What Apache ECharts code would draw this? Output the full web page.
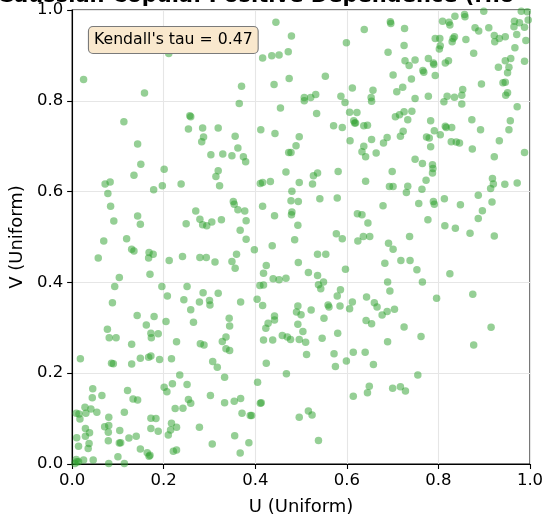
<!DOCTYPE html>
<html>
<head>
<meta charset="utf-8">
<script src="https://cdn.jsdelivr.net/npm/echarts@6/dist/echarts.min.js"></script>
<style>
  html, body { margin: 0; padding: 0; background: #fff; }
  #chart { width: 547px; height: 521px; }
</style>
</head>
<body>
<div id="chart"></div>
<script>
// texts
const titleText = 'Gaussian Copula: Positive Dependence (rho = 0.7)';
const noteText = "Kendall's tau = 0.47";
const xName = 'U (Uniform)';
const yName = 'V (Uniform)';
const tickStep = 0.2;

const samples = [
  [0.445,0.973],[0.479,0.943],[0.211,0.904],[0.416,0.894],[0.436,0.899],[0.452,0.901],[0.472,0.908],
  [0.025,0.847],[0.158,0.817],[0.370,0.832],[0.441,0.836],[0.474,0.849],[0.365,0.794],[0.455,0.784],
  [0.257,0.767],[0.259,0.765],[0.113,0.754],
  [0.899,0.997],[0.857,0.990],[0.858,0.985],[0.836,0.986],[0.809,0.975],[0.823,0.973],[0.825,0.967],
  [0.695,0.974],[0.696,0.970],[0.726,0.959],[0.638,0.957],[0.599,0.928],[0.690,0.907],[0.725,0.922],
  [0.727,0.888],[0.736,0.878],[0.749,0.890],[0.778,0.893],[0.789,0.883],[0.790,0.880],[0.766,0.867],
  [0.768,0.863],[0.793,0.856],[0.815,0.883],[0.822,0.888],[0.701,0.857],[0.741,0.848],[0.722,0.830],
  [0.709,0.820],[0.793,0.937],[0.803,0.937],[0.804,0.921],[0.802,0.914],[0.830,0.930],[0.832,0.937],
  [0.835,0.941],[0.860,0.935],[0.877,0.905],[0.880,0.961],[0.888,0.954],[0.910,0.961],[0.922,0.944],
  [0.923,0.930],[0.933,0.937],[0.946,0.941],[0.971,0.946],[0.991,0.933],[0.967,0.917],[0.965,0.963],
  [0.966,0.975],[0.977,0.972],[0.988,0.962],[0.996,0.978],[0.981,0.997],[0.994,0.996],[0.946,0.888],
  [0.958,0.893],[0.931,0.874],[0.954,0.874],[0.951,0.862],[0.988,0.887],[0.894,0.837],[0.941,0.840],
  [0.946,0.841],[0.951,0.818],[0.947,0.812],[0.972,0.787],[0.507,0.807],[0.507,0.800],[0.521,0.807],
  [0.532,0.814],[0.553,0.854],[0.587,0.810],[0.596,0.796],[0.612,0.828],[0.657,0.823],[0.653,0.807],
  [0.654,0.799],[0.749,0.805],[0.778,0.810],[0.819,0.810],[0.835,0.808],[0.851,0.812],[0.853,0.825],
  [0.851,0.793],[0.812,0.798],[0.534,0.772],[0.606,0.775],[0.622,0.774],[0.615,0.756],[0.619,0.751],
  [0.706,0.765],[0.715,0.769],[0.725,0.776],[0.742,0.777],[0.733,0.758],[0.783,0.756],[0.873,0.758],
  [0.957,0.756],
  [0.254,0.738],[0.285,0.740],[0.319,0.740],[0.287,0.720],[0.283,0.710],[0.356,0.722],[0.412,0.736],
  [0.443,0.728],[0.496,0.721],[0.143,0.705],[0.362,0.696],[0.489,0.701],[0.303,0.681],[0.329,0.683],
  [0.349,0.679],[0.374,0.677],[0.379,0.666],[0.473,0.686],[0.478,0.686],[0.150,0.660],[0.201,0.649],
  [0.319,0.646],[0.314,0.633],[0.322,0.613],[0.135,0.636],[0.072,0.617],[0.083,0.621],[0.078,0.596],
  [0.197,0.613],[0.178,0.604],[0.238,0.617],[0.411,0.618],[0.416,0.620],[0.433,0.622],[0.467,0.643],
  [0.496,0.620],[0.480,0.601],[0.478,0.580],[0.494,0.578],[0.416,0.568],[0.442,0.547],[0.480,0.555],
  [0.479,0.549],[0.084,0.568],[0.091,0.535],[0.143,0.546],[0.149,0.528],[0.270,0.557],[0.279,0.539],
  [0.285,0.527],[0.294,0.525],[0.305,0.533],[0.326,0.538],[0.352,0.578],[0.354,0.572],[0.362,0.560],
  [0.377,0.557],[0.380,0.536],[0.249,0.529],[0.367,0.515],[0.493,0.526],
  [0.571,0.745],[0.590,0.741],[0.617,0.751],[0.637,0.745],[0.645,0.746],[0.607,0.712],[0.654,0.715],
  [0.637,0.700],[0.633,0.688],[0.641,0.677],[0.664,0.685],[0.680,0.707],[0.688,0.719],[0.717,0.722],
  [0.723,0.733],[0.774,0.720],[0.780,0.718],[0.791,0.734],[0.804,0.725],[0.815,0.744],[0.817,0.741],
  [0.829,0.741],[0.783,0.699],[0.828,0.710],[0.839,0.709],[0.846,0.707],[0.874,0.694],[0.892,0.736],
  [0.933,0.712],[0.954,0.736],[0.922,0.677],[0.988,0.686],[0.749,0.671],[0.765,0.662],[0.787,0.659],
  [0.788,0.651],[0.787,0.641],[0.699,0.644],[0.773,0.625],[0.641,0.623],[0.693,0.611],[0.701,0.611],
  [0.733,0.612],[0.730,0.598],[0.764,0.605],[0.536,0.641],[0.527,0.635],[0.525,0.617],[0.581,0.644],
  [0.918,0.629],[0.920,0.617],[0.914,0.607],[0.945,0.616],[0.972,0.619],[0.887,0.592],[0.917,0.577],
  [0.541,0.584],[0.579,0.586],[0.679,0.569],[0.623,0.551],[0.633,0.549],[0.646,0.531],[0.757,0.574],
  [0.789,0.578],[0.791,0.572],[0.813,0.584],[0.848,0.571],[0.896,0.558],[0.887,0.541],[0.777,0.538],
  [0.814,0.525],[0.837,0.519],[0.869,0.508],[0.922,0.502],[0.577,0.507],[0.636,0.501],[0.650,0.501],
  [0.737,0.501],
  [0.069,0.491],[0.119,0.496],[0.130,0.473],[0.135,0.469],[0.168,0.466],[0.177,0.462],[0.167,0.454],
  [0.057,0.454],[0.170,0.418],[0.103,0.411],[0.093,0.391],[0.088,0.355],[0.212,0.448],[0.241,0.457],
  [0.279,0.455],[0.293,0.455],[0.312,0.445],[0.349,0.446],[0.359,0.462],[0.356,0.431],[0.380,0.495],
  [0.398,0.472],[0.437,0.481],[0.486,0.494],[0.494,0.444],[0.424,0.437],[0.418,0.420],[0.439,0.408],
  [0.452,0.406],[0.467,0.409],[0.410,0.393],[0.418,0.394],[0.196,0.391],[0.251,0.391],[0.208,0.370],
  [0.244,0.362],[0.286,0.377],[0.278,0.357],[0.300,0.360],[0.301,0.350],[0.319,0.376],[0.259,0.340],
  [0.368,0.357],[0.404,0.363],[0.416,0.349],[0.142,0.327],[0.179,0.325],[0.162,0.306],[0.205,0.314],
  [0.265,0.312],[0.343,0.321],[0.344,0.304],[0.077,0.297],[0.081,0.278],[0.096,0.278],[0.172,0.288],
  [0.188,0.287],[0.173,0.278],[0.130,0.264],[0.228,0.269],[0.280,0.265],[0.288,0.262],[0.328,0.270],
  [0.336,0.280],[0.344,0.250],[0.336,0.254],[0.442,0.326],[0.442,0.317],[0.428,0.310],[0.423,0.299],
  [0.459,0.283],[0.470,0.280],[0.477,0.274],[0.418,0.273],[0.438,0.273],[0.493,0.348],[0.490,0.335],
  [0.493,0.308],[0.496,0.274],
  [0.590,0.496],[0.624,0.491],[0.691,0.486],[0.701,0.473],[0.536,0.462],[0.554,0.462],[0.516,0.422],
  [0.536,0.415],[0.597,0.429],[0.683,0.442],[0.718,0.448],[0.738,0.448],[0.753,0.428],[0.765,0.401],
  [0.825,0.419],[0.538,0.395],[0.543,0.386],[0.549,0.401],[0.586,0.384],[0.579,0.370],[0.689,0.401],
  [0.694,0.381],[0.643,0.368],[0.660,0.355],[0.666,0.346],[0.612,0.357],[0.606,0.342],[0.585,0.348],
  [0.559,0.350],[0.561,0.346],[0.522,0.339],[0.500,0.329],[0.550,0.321],[0.677,0.328],[0.688,0.336],
  [0.704,0.341],[0.642,0.316],[0.654,0.309],[0.725,0.302],[0.796,0.365],[0.875,0.374],[0.915,0.301],
  [0.504,0.292],[0.510,0.268],[0.546,0.277],[0.580,0.288],[0.762,0.281],[0.689,0.269],[0.877,0.262],
  [0.018,0.232],[0.086,0.222],[0.090,0.221],[0.130,0.220],[0.149,0.233],[0.167,0.235],[0.172,0.238],
  [0.191,0.230],[0.217,0.232],[0.307,0.226],[0.317,0.213],[0.424,0.222],[0.468,0.199],[0.333,0.191],
  [0.405,0.180],[0.235,0.196],[0.251,0.175],[0.219,0.177],[0.201,0.169],[0.207,0.159],[0.302,0.151],
  [0.333,0.135],[0.354,0.138],[0.368,0.144],[0.413,0.135],[0.411,0.134],[0.371,0.112],[0.389,0.107],
  [0.392,0.107],[0.254,0.142],[0.259,0.134],[0.242,0.123],[0.225,0.122],[0.496,0.103],[0.045,0.166],
  [0.044,0.146],[0.065,0.151],[0.121,0.162],[0.133,0.143],[0.143,0.141],[0.028,0.125],[0.041,0.121],
  [0.054,0.114],[0.030,0.112],[0.009,0.112],[0.015,0.110],[0.017,0.099],[0.114,0.114],[0.080,0.103],
  [0.071,0.082],[0.080,0.085],[0.079,0.070],[0.079,0.051],[0.029,0.078],[0.038,0.069],[0.029,0.061],
  [0.010,0.058],[0.037,0.045],[0.014,0.039],[0.035,0.034],[0.104,0.074],[0.103,0.046],[0.106,0.047],
  [0.124,0.057],[0.140,0.061],[0.172,0.101],[0.183,0.100],[0.172,0.078],[0.188,0.072],[0.217,0.090],
  [0.228,0.081],[0.215,0.075],[0.210,0.064],[0.278,0.081],[0.149,0.033],[0.164,0.025],[0.170,0.019],
  [0.168,0.017],[0.100,0.016],[0.114,0.001],[0.080,0.001],[0.046,0.009],[0.025,0.009],[0.009,0.010],
  [0.010,0.005],[0.006,0.001],[0.014,0.005],[0.221,0.028],[0.228,0.031],[0.306,0.044],[0.355,0.062],
  [0.367,0.024],[0.386,0.047],
  [0.512,0.241],[0.572,0.243],[0.614,0.246],[0.640,0.246],[0.575,0.215],[0.599,0.227],[0.658,0.219],
  [0.755,0.196],[0.649,0.171],[0.645,0.157],[0.614,0.149],[0.700,0.167],[0.717,0.170],[0.728,0.161],
  [0.516,0.117],[0.524,0.108],[0.538,0.052]
];

var dom = document.getElementById('chart');
var myChart = echarts.init(dom);
var font = 'DejaVu Sans';

var option = {
  animation: false,
  backgroundColor: '#ffffff',
  grid: {
    left: 70, right: 17, top: 10, bottom: 51,
    show: true,
    borderColor: '#000000',
    borderWidth: 1.1,
    backgroundColor: 'transparent'
  },
  xAxis: {
    type: 'value',
    min: 0, max: 1, interval: tickStep,
    name: xName,
    nameLocation: 'middle',
    nameGap: 34,
    nameTextStyle: { fontFamily: font, fontSize: 18, color: '#000' },
    axisLine: { show: true, onZero: false, lineStyle: { color: '#000', width: 1.1 } },
    axisTick: { show: true, length: 5, lineStyle: { color: '#000', width: 1.1 } },
    axisLabel: {
      margin: 8, fontFamily: font, fontSize: 16.5, color: '#000',
      formatter: function (v) { return v.toFixed(1); }
    },
    splitLine: { show: true, lineStyle: { color: '#e6e6e6', width: 1.1 } }
  },
  yAxis: {
    type: 'value',
    min: 0, max: 1, interval: tickStep,
    name: yName,
    nameLocation: 'middle',
    nameGap: 44,
    nameTextStyle: { fontFamily: font, fontSize: 18, color: '#000' },
    axisLine: { show: true, onZero: false, lineStyle: { color: '#000', width: 1.1 } },
    axisTick: { show: true, length: 5, lineStyle: { color: '#000', width: 1.1 } },
    axisLabel: {
      margin: 9, fontFamily: font, fontSize: 16.5, color: '#000',
      formatter: function (v) { return v.toFixed(1); }
    },
    splitLine: { show: true, lineStyle: { color: '#e6e6e6', width: 1.1 } }
  },
  graphic: [
    {
      type: 'text', x: 295, y: -3, z: 10,
      style: {
        text: titleText, fill: '#000',
        font: 'bold 21px "DejaVu Sans"',
        textAlign: 'center', textVerticalAlign: 'middle'
      }
    },
    {
      type: 'text', x: 89, y: 27, z: 10,
      style: {
        text: noteText, fill: '#000',
        font: '15.7px "DejaVu Sans"',
        backgroundColor: '#f9e8cd',
        borderColor: '#7a7a7a', borderWidth: 1.1, borderRadius: 4,
        padding: [5, 5, 5, 5]
      }
    }
  ],
  series: [{
    type: 'scatter',
    data: samples,
    symbolSize: 7.5,
    clip: true,
    itemStyle: { color: '#2ca02c', opacity: 0.5 }
  }]
};

myChart.setOption(option);
</script>
</body>
</html>
